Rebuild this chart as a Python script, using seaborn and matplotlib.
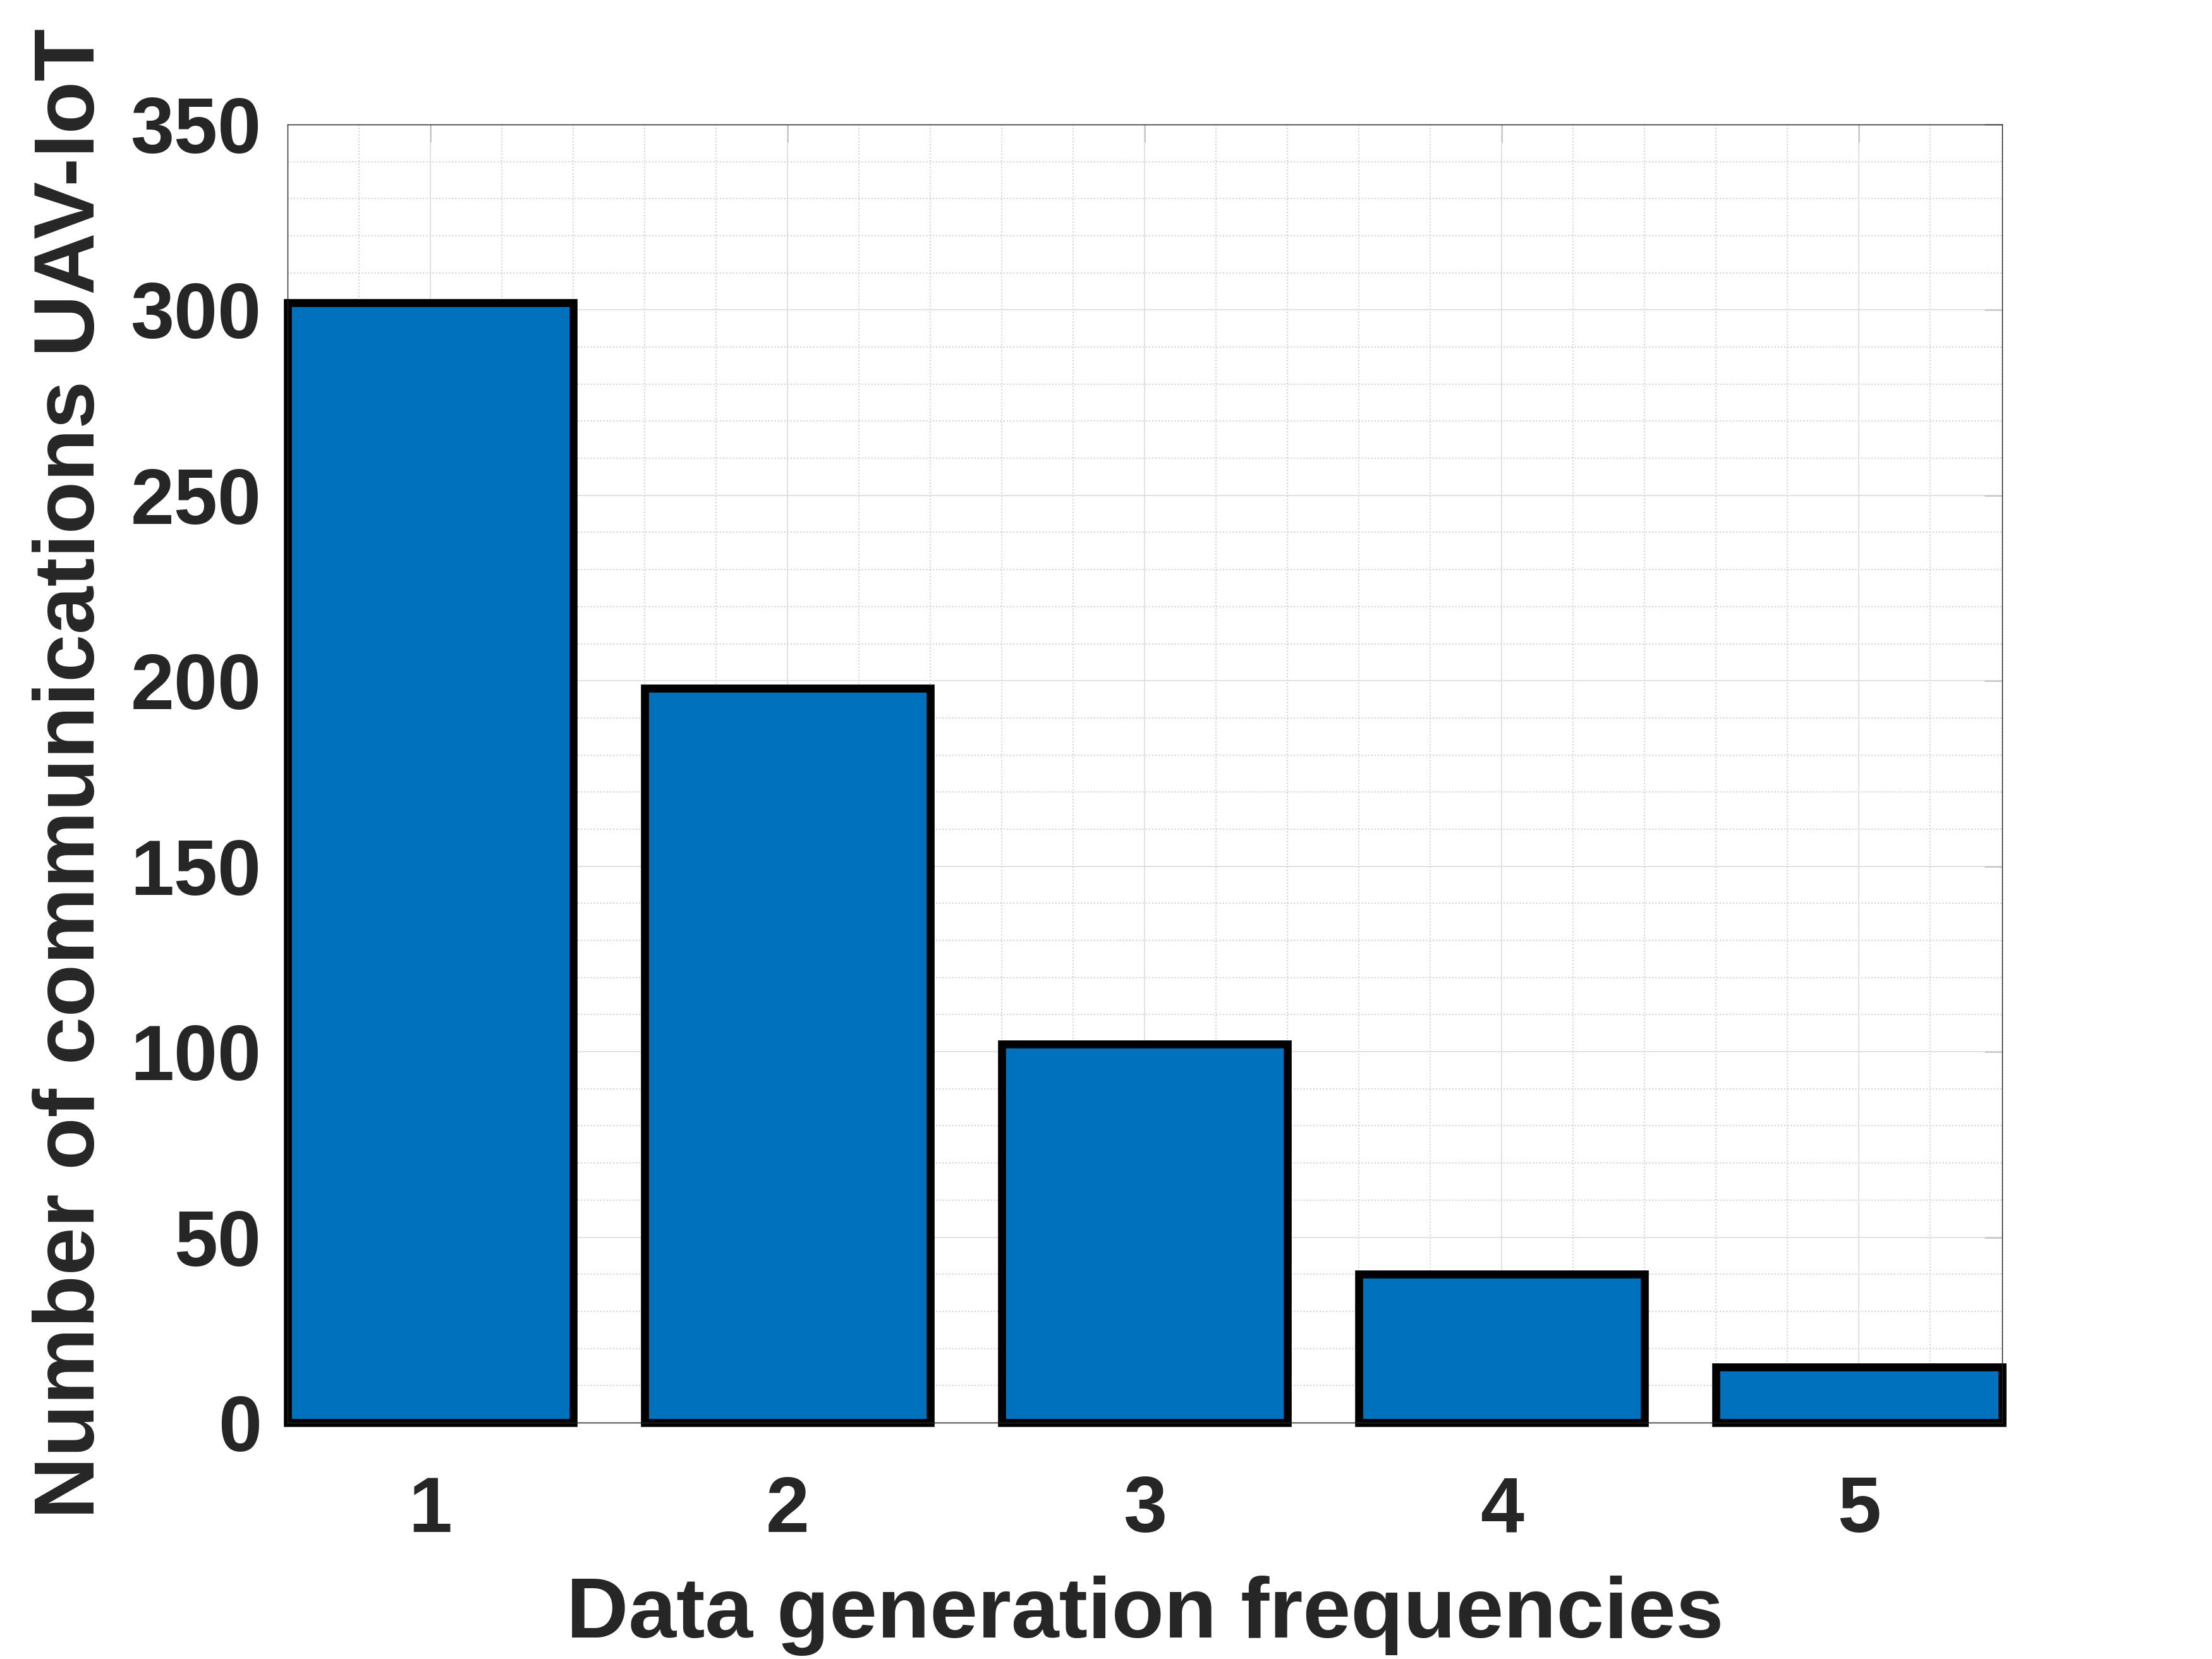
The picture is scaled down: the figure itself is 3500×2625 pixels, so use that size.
import numpy as np
import pandas as pd
import matplotlib
matplotlib.use("Agg")
import matplotlib.pyplot as plt
import seaborn as sns
from matplotlib.ticker import MultipleLocator

# data
frequencies = [1, 2, 3, 4, 5]
communications = [302, 198, 102, 40, 15]

df = pd.DataFrame({"freq": frequencies, "count": communications})

sns.set_theme(style="white")
plt.rcParams["font.family"] = ["Liberation Sans", "DejaVu Sans"]
plt.rcParams["font.weight"] = "bold"

TXT = "#262626"

fig = plt.figure(figsize=(10, 7.5), dpi=350)
ax = fig.add_axes([0.130, 0.1425, 0.775, 0.7825])

sns.barplot(data=df, x="freq", y="count", native_scale=True, width=0.8,
            color="#0072BD", saturation=1, edgecolor="black", linewidth=2.6,
            ax=ax)
for p in ax.patches:
    p.set_clip_on(False)
    p.set_zorder(1.5)

ax.set_xlim(0.6, 5.4)
ax.set_ylim(0, 350)
ax.xaxis.set_major_locator(MultipleLocator(1))
ax.xaxis.set_minor_locator(MultipleLocator(0.2))
ax.yaxis.set_major_locator(MultipleLocator(50))
ax.yaxis.set_minor_locator(MultipleLocator(10))

# matlab-like grid drawn behind the bars
xmaj = ax.get_xticks()
ymaj = ax.get_yticks()
for x in ax.xaxis.get_minorticklocs():
    if not np.any(np.isclose(x, xmaj)):
        ax.axvline(x, color="#c4c4c4", lw=0.35, ls=(0, (1, 2)), zorder=0.5)
for y in ax.yaxis.get_minorticklocs():
    if not np.any(np.isclose(y, ymaj)):
        ax.axhline(y, color="#c4c4c4", lw=0.35, ls=(0, (1, 2)), zorder=0.5)
for x in xmaj:
    ax.axvline(x, color="#dedede", lw=0.35, zorder=0.6)
for y in ymaj:
    ax.axhline(y, color="#dedede", lw=0.35, zorder=0.6)

ax.tick_params(axis="both", which="major", direction="in", length=5.7,
               width=0.3, color=TXT, labelcolor=TXT, labelsize=25.5,
               top=True, right=True)
ax.tick_params(axis="x", which="major", pad=17)
ax.tick_params(axis="y", which="major", pad=8.5)
ax.tick_params(axis="both", which="minor", length=0)
for lab in ax.get_xticklabels() + ax.get_yticklabels():
    lab.set_fontweight("bold")

for s in ax.spines.values():
    s.set_color(TXT)
    s.set_linewidth(0.3)
    s.set_zorder(3)

ax.set_xlabel("Data generation frequencies", fontsize=28, fontweight="bold",
              color=TXT, labelpad=9)
ax.set_ylabel("Number of communications UAV-IoT", fontsize=28,
              fontweight="bold", color=TXT, labelpad=6)

fig.savefig("out.png", dpi=350, facecolor="white")
